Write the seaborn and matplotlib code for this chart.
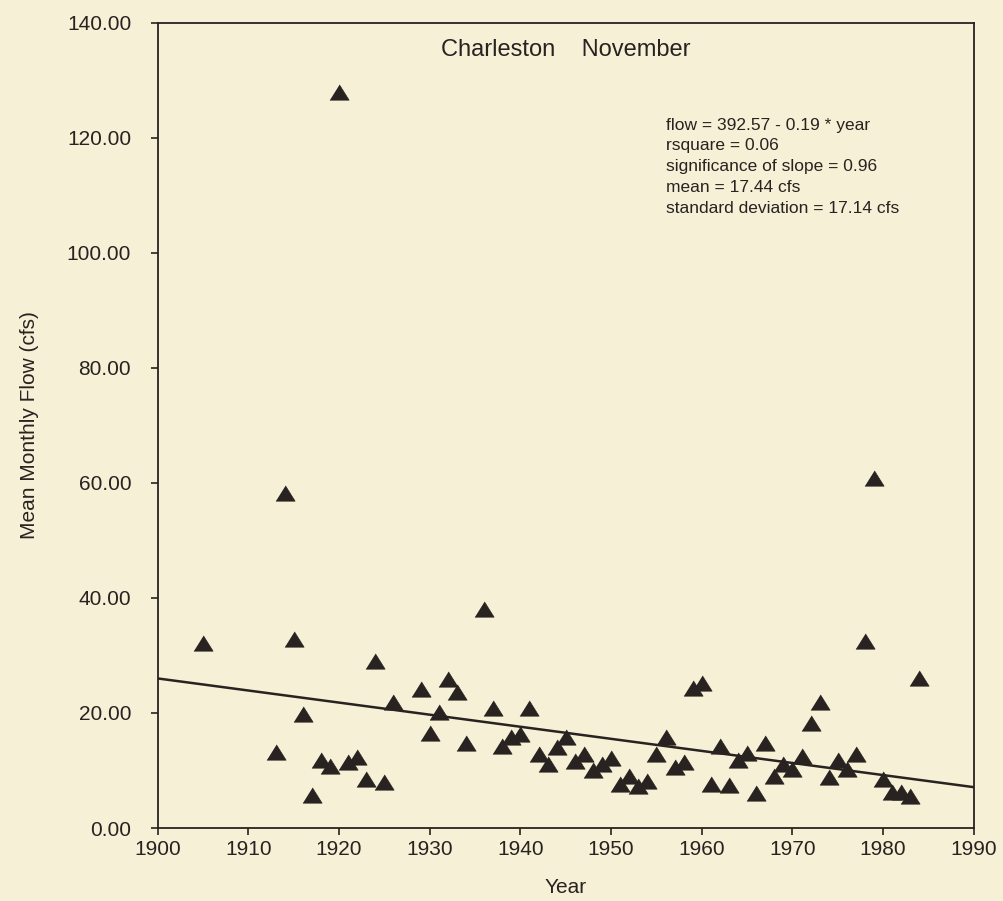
import pandas as pd
import matplotlib
matplotlib.use('Agg')
import matplotlib.pyplot as plt
import seaborn as sns

# November mean monthly flow, Charleston
years = [1905, 1913, 1914, 1915, 1916, 1917, 1918, 1919, 1920, 1921, 1922, 1923, 1924, 1925, 1926,
         1929, 1930, 1931, 1932, 1933, 1934, 1936, 1937, 1938, 1939, 1940, 1941, 1942, 1943, 1944,
         1945, 1946, 1947, 1948, 1949, 1950, 1951, 1952, 1953, 1954, 1955, 1956, 1957, 1958, 1959,
         1960, 1961, 1962, 1963, 1964, 1965, 1966, 1967, 1968, 1969, 1970, 1971, 1972, 1973, 1974,
         1975, 1976, 1977, 1978, 1979, 1980, 1981, 1982, 1983, 1984]
flow = [32.1, 13.2, 58.2, 32.9, 19.8, 5.8, 11.8, 10.7, 128.0, 11.5, 12.3, 8.6, 29.0, 8.0, 21.9,
        24.2, 16.5, 20.2, 25.9, 23.7, 14.7, 38.0, 20.9, 14.3, 15.9, 16.4, 20.8, 12.8, 11.2, 14.1,
        15.9, 11.7, 12.8, 10.0, 11.2, 12.1, 7.6, 9.0, 7.3, 8.1, 12.9, 15.9, 10.6, 11.5, 24.4,
        25.2, 7.7, 14.3, 7.4, 11.9, 13.0, 6.1, 14.8, 9.0, 11.2, 10.3, 12.5, 18.3, 21.9, 8.9,
        11.9, 10.3, 12.8, 32.5, 60.8, 8.6, 6.3, 6.3, 5.5, 26.0]

# fitted line as drawn
trend_years = [1900, 1990]
trend_flow = [26.0, 7.1]

x_ticks = list(range(1900, 2000, 10))
y_ticks = [0, 20, 40, 60, 80, 100, 120, 140]

stats_text = ("flow = 392.57 - 0.19 * year\n"
              "rsquare = 0.06\n"
              "significance of slope = 0.96\n"
              "mean = 17.44 cfs\n"
              "standard deviation = 17.14 cfs")

paper = '#f5f0d6'
ink = '#282220'

sns.set_style('ticks', {'axes.facecolor': paper, 'figure.facecolor': paper,
                        'axes.edgecolor': ink, 'xtick.color': ink, 'ytick.color': ink})
plt.rcParams['font.family'] = ['Liberation Sans', 'DejaVu Sans']
plt.rcParams['text.color'] = ink
plt.rcParams['axes.labelcolor'] = ink

df = pd.DataFrame({'Year': years, 'Flow': flow})
trend = pd.DataFrame({'Year': trend_years, 'Flow': trend_flow})

fig = plt.figure(figsize=(10.04, 9.01), dpi=100)
ax = fig.add_axes([0.157, 0.081, 0.813, 0.894])

tri = [(-1, -0.8), (1, -0.8), (0, 0.8)]
sns.lineplot(data=trend, x='Year', y='Flow', ax=ax, color=ink, linewidth=1.8)
sns.scatterplot(data=df, x='Year', y='Flow', ax=ax, marker=tri, s=190,
                color=ink, edgecolor=ink, linewidth=0.5, zorder=3)

ax.set_xlim(1900, 1990)
ax.set_ylim(0, 140)
ax.set_xticks(x_ticks)
ax.set_yticks(y_ticks)
ax.set_yticklabels([f'{v:.2f}' for v in y_ticks])
ax.tick_params(labelsize=15, length=5, width=1.2, direction='out')
ax.tick_params(axis='y', pad=14)
for s in ax.spines.values():
    s.set_linewidth(1.3)

ax.set_xlabel('Year', fontsize=15, labelpad=14)
ax.set_ylabel('Mean Monthly Flow (cfs)', fontsize=15, labelpad=20)

ax.text(0.5, 0.966, 'Charleston    November', transform=ax.transAxes,
        ha='center', va='center', fontsize=17)
ax.text(0.623, 0.882, stats_text, transform=ax.transAxes, ha='left', va='top',
        fontsize=12.5, linespacing=1.48)

plt.savefig('out.png', dpi=100, facecolor=paper)
